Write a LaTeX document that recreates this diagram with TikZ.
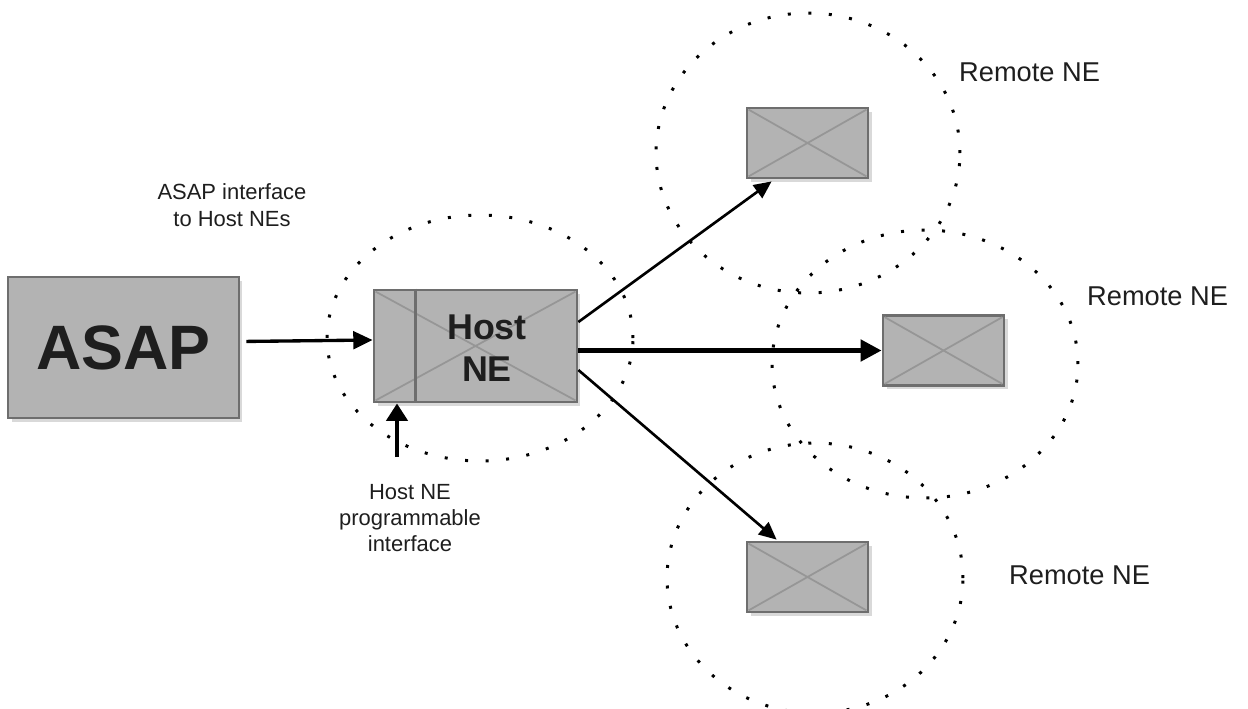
\documentclass[tikz,border=0pt]{standalone}
\usepackage{fontspec}
\setmainfont{Liberation Sans}
\usetikzlibrary{arrows.meta,calc,shadows}

\definecolor{boxgray}{HTML}{B3B3B3}
\definecolor{edgegray}{HTML}{6E6E6E}
\definecolor{crossgray}{HTML}{969696}
\definecolor{inkgray}{HTML}{1E1E1E}

\begin{document}
\begin{tikzpicture}[x=0.02cm,y=-0.02cm,
  ne/.style={draw=edgegray,line width=1.6pt,fill=boxgray,inner sep=0pt,
    drop shadow={opacity=0.3,shadow xshift=2pt,shadow yshift=-2pt}},
  ring/.style={line width=1.7pt,dash pattern=on 1.7pt off 10pt},
  lbl/.style={font=\fontsize{12.5}{15}\selectfont,text=inkgray,align=center},
  remlbl/.style={font=\fontsize{15.5}{18}\selectfont,text=inkgray,anchor=west},
  feed/.style={-{Triangle[length=10pt,width=9pt]},line width=1.5pt},
  mainfeed/.style={-{Triangle[length=12pt,width=12pt]},line width=2.8pt}]
\useasboundingbox (0,0) rectangle (1248,708);

% dotted reach of each NE
\draw[ring] (480,338) ellipse [x radius=3.06cm, y radius=2.46cm];
\draw[ring] (808,153) ellipse [x radius=3.04cm, y radius=2.8cm];
\draw[ring] (925,364) ellipse [x radius=3.06cm, y radius=2.68cm];
\draw[ring] (815,578) ellipse [x radius=2.96cm, y radius=2.7cm];

% boxes
\node[ne,minimum width=4.62cm,minimum height=2.82cm,
  font=\fontsize{35.7}{40}\bfseries\selectfont,text=inkgray] (asap) at (123.5,347.5) {ASAP};
\node[ne,minimum width=4.06cm,minimum height=2.24cm] (host) at (475.5,346) {};
\node[ne,minimum width=2.42cm,minimum height=1.4cm] (rem1) at (807.5,143) {};
\node[ne,minimum width=2.42cm,minimum height=1.4cm] (rem2) at (943.5,350.5) {};
\node[ne,minimum width=2.42cm,minimum height=1.4cm] (rem3) at (807.5,577) {};

\foreach \n in {host,rem1,rem2,rem3}
  \draw[crossgray,line width=1pt] ($(\n.north west)+(3,3)$) -- ($(\n.south east)+(-3,-3)$)
    ($(\n.south west)+(3,-3)$) -- ($(\n.north east)+(-3,3)$);
\draw[edgegray,line width=1.6pt] ($(host.north west)+(43,0)$) -- ($(host.south west)+(43,0)$);
\node[font=\fontsize{20.4}{23.8}\bfseries\selectfont,text=inkgray,align=center]
  (hostlbl) at (487,348) {Host\\NE};

% labels
\node[lbl] (ifc) at (232,205) {ASAP interface\\to Host NEs};
\node[lbl] (prog) at (410,518) {Host NE\\programmable\\interface};
\node[remlbl] (rl1) at (953,72) {Remote NE};
\node[remlbl] (rl2) at (1081,296) {Remote NE};
\node[remlbl] (rl3) at (1003,575) {Remote NE};

% connectors
\coordinate (pin) at (397,457);
\draw[-{Triangle[length=11pt,width=10pt]},line width=1.9pt,shorten <=3.4pt]
  ($(asap.east)+(0,-6)$) -- ($(host.west)+(0,-6)$);
\draw[-{Triangle[length=10pt,width=12pt]},line width=2.6pt] (pin) -- (pin |- host.south);
\draw[feed] ($(host.east)+(0,-24)$) -- ($(rem1.south west)+(26,2)$);
\draw[mainfeed] (host.east |- rem2.west) -- (rem2.west);
\draw[feed] ($(host.east)+(0,24)$) -- ($(rem3.north west)+(31,-1)$);
\end{tikzpicture}
\end{document}
